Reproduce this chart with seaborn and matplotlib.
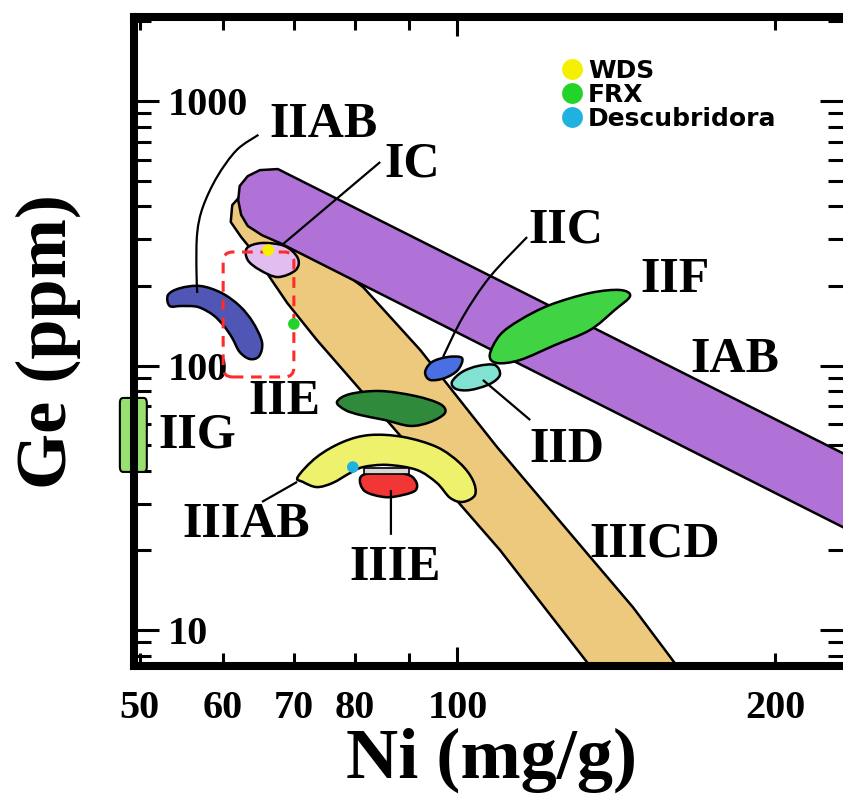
import numpy as np
import matplotlib
matplotlib.use("Agg")
import matplotlib.pyplot as plt
import matplotlib.patches as mpatches
from matplotlib.path import Path
from matplotlib.lines import Line2D
from matplotlib.ticker import NullFormatter, LogLocator
import seaborn as sns
import pandas as pd

# ---------------- data (Ni in mg/g, Ge in ppm) ----------------
IAB_NI = [67.6, 240.6, 240.6, 67.9, 65.3, 63.3, 62.4, 62.0, 62.2, 63.3, 65.0]
IAB_GE = [553, 43.2, 22.7, 290.5, 311, 337, 371, 422, 477, 520, 548]

IIICD_NI = [61.2, 63.6, 70.9, 81.4, 92.2, 109.0, 134.3, 146.6, 161.4, 171.5,
            142.2, 133.5, 109.7, 73.6, 69.0, 66.5, 64.3, 62.4, 61.0]
IIICD_GE = [404, 481, 298, 198, 114.5, 49.2, 18.4, 12.2, 7.31, 5.44,
            5.44, 7.31, 20.07, 124.9, 172.3, 214, 264, 306, 349]

IC_NI = [63.2, 65.3, 68.6, 70.6, 70.3, 67.6, 65.0, 63.3]
IC_GE = [278, 290.5, 283, 255, 229.7, 216, 229.7, 250.6]

IIAB_NI = [53.2, 54.6, 57.1, 59.8, 62.2, 64.0, 65.3, 64.9, 63.6, 62.2, 61.2,
           60.1, 58.7, 56.8, 54.8, 53.4]
IIAB_GE = [184.7, 196, 199.8, 188, 167.9, 146, 122.7, 108.6, 105.8, 112.5,
           127, 141.1, 155.2, 166.4, 167.9, 167.9]

IIC_NI = [93.2, 94.6, 97.9, 101.0, 100.1, 97.3, 94.2]
IIC_GE = [94.5, 103.1, 107.7, 106.7, 96.2, 89.7, 88.2]

IID_NI = [98.8, 101.0, 104.6, 108.5, 109.7, 107.3, 102.8, 99.7]
IID_GE = [86.6, 94.5, 99.6, 100.4, 92.1, 85.1, 80.8, 81.5]

IIF_NI = [107.3, 109.7, 114.6, 122.3, 133.5, 142.5, 145.7, 140.9, 133.5,
          123.7, 114.6, 109.0]
IIF_GE = [109.6, 130.4, 148.6, 169.3, 188, 193, 183, 162.1, 136.2, 119.5,
          104.9, 102.2]

IIE_NI = [76.9, 79.1, 84.5, 91.2, 96.3, 97.3, 94.2, 90.2, 85.4, 80.9, 78.3]
IIE_GE = [72.8, 78.0, 80.1, 76.7, 71.5, 66.1, 61.1, 59.1, 62.2, 65.0, 67.9]

IIIAB_NI = [70.6, 73.6, 77.9, 82.6, 88.8, 95.6, 100.5, 103.4, 103.9, 101.2,
            98.4, 95.6, 91.5, 85.8, 81.4, 79.1, 76.2, 73.6, 71.4]
IIIAB_GE = [37.9, 45.1, 51.4, 54.6, 53.7, 49.2, 42.8, 36.9, 32.4, 30.5,
            31.6, 36.0, 40.3, 42.1, 41.3, 39.2, 36.0, 34.7, 36.3]

IIIE_NI = [80.9, 83.0, 89.2, 91.3, 91.3, 88.8, 85.4, 81.7]
IIIE_GE = [37.6, 39.2, 38.9, 36.6, 33.8, 32.4, 31.8, 33.5]

IIIE_BAR_NI = [81.5, 90.0]
IIIE_BAR_GE = [38.8, 40.8]

IIG_NI = [47.9, 50.8]
IIG_GE = [39.6, 75.4]

BOX_NI = [60.0, 70.0]
BOX_GE = [90.5, 268.6]

# leader lines
LEAD_IIAB_NI = [64.8, 61.8, 59.2, 57.4, 56.7, 56.6, 56.7]
LEAD_IIAB_GE = [745, 652.6, 516, 397, 316.9, 235.8, 188]
LEAD_IC_NI = [84.5, 68.2]
LEAD_IC_GE = [588, 285.5]
LEAD_IIC_NI = [116.4, 107.3, 101.2, 96.9]
LEAD_IIC_GE = [306, 216, 152.6, 107.7]
LEAD_IID_NI = [105.7, 117.2]
LEAD_IID_GE = [88.2, 62.2]
LEAD_IIIAB_NI = [65.3, 70.5]
LEAD_IIIAB_GE = [30.5, 36.3]
LEAD_IIIE_NI = [86.5, 86.5]
LEAD_IIIE_GE = [33.8, 22.9]

# group labels
LABELS = ["IIAB", "IC", "IIC", "IIF", "IAB", "IIE", "IIG", "IID", "IIIAB", "IIIE", "IIICD"]
LABEL_NI = [74.6, 90.6, 126.7, 160.7, 183.2, 68.6, 56.7, 127.0, 63.1, 87.3, 153.8]
LABEL_GE = [811, 573, 325, 210.6, 104.9, 72.8, 54.6, 47.9, 24.9, 17.2, 21.0]

# measured points
POINT_NAMES = ["WDS", "FRX", "Descubridora"]
POINT_NI = [66.2, 70.0, 79.6]
POINT_GE = [273, 143.6, 41.3]
POINT_COLORS = ["#f5f000", "#22d42a", "#1fb2e0"]

X_MAJOR = [100]
X_MINOR = [50, 60, 70, 80, 90, 200]
X_MINOR_LABELS = ["50", "60", "70", "80", "", "200"]
Y_MAJOR = [10, 100, 1000]
Y_MAJOR_LABELS = ["10", "100", "1000"]

# ---------------- helpers ----------------
def smooth_closed(xs, ys):
    P = np.column_stack([np.log10(xs), np.log10(ys)])
    N = len(P)
    verts = [P[0]]
    codes = [Path.MOVETO]
    for i in range(N):
        p0, p1, p2, p3 = P[i - 1], P[i], P[(i + 1) % N], P[(i + 2) % N]
        c1 = p1 + (p2 - p0) / 6.0
        c2 = p2 - (p3 - p1) / 6.0
        verts += [c1, c2, p2]
        codes += [Path.CURVE4] * 3
    verts.append(P[0])
    codes.append(Path.CLOSEPOLY)
    return Path(10 ** np.array(verts), codes)


def smooth_open(xs, ys):
    P = np.column_stack([np.log10(xs), np.log10(ys)])
    N = len(P)
    verts = [P[0]]
    codes = [Path.MOVETO]
    for i in range(N - 1):
        p0 = P[i - 1] if i > 0 else P[i]
        p1, p2 = P[i], P[i + 1]
        p3 = P[i + 2] if i + 2 < N else P[i + 1]
        verts += [p1 + (p2 - p0) / 6.0, p2 - (p3 - p1) / 6.0, p2]
        codes += [Path.CURVE4] * 3
    return Path(10 ** np.array(verts), codes)


def rounded_rect(x0, x1, y0, y1, rx, ry):
    L0, L1, M0, M1 = np.log10(x0), np.log10(x1), np.log10(y0), np.log10(y1)
    v = [(L0 + rx, M0), (L1 - rx, M0), (L1, M0), (L1, M0 + ry), (L1, M1 - ry),
         (L1, M1), (L1 - rx, M1), (L0 + rx, M1), (L0, M1), (L0, M1 - ry),
         (L0, M0 + ry), (L0, M0), (L0 + rx, M0), (L0 + rx, M0)]
    c = [Path.MOVETO, Path.LINETO, Path.CURVE3, Path.CURVE3, Path.LINETO,
         Path.CURVE3, Path.CURVE3, Path.LINETO, Path.CURVE3, Path.CURVE3,
         Path.LINETO, Path.CURVE3, Path.CURVE3, Path.CLOSEPOLY]
    return Path(10 ** np.array(v), c)

# ---------------- figure ----------------
sns.set_style("white")
plt.rcParams["font.family"] = ["Liberation Serif", "DejaVu Serif"]
plt.rcParams["font.weight"] = "bold"
for k in ["text.color", "axes.labelcolor", "xtick.color", "ytick.color", "axes.edgecolor"]:
    plt.rcParams[k] = "black"

W, H = 843, 797
fig = plt.figure(figsize=(W / 100, H / 100), dpi=100)
fig.patch.set_facecolor("white")
ax = fig.add_axes([134 / W, 1 - 666 / H, 711 / W, 649 / H])
ax.set_xscale("log")
ax.set_yscale("log")
ax.set_xlim(49.4, 232.8)
ax.set_ylim(7.31, 2078)

EDGE = dict(edgecolor="black", linewidth=1.8, joinstyle="round")

ax.add_patch(mpatches.Polygon(np.column_stack([IIICD_NI, IIICD_GE]), closed=True,
                              facecolor="#ecc97c", zorder=1.0, **EDGE))
ax.add_patch(mpatches.Polygon(np.column_stack([IAB_NI, IAB_GE]), closed=True,
                              facecolor="#b172d8", zorder=1.1, **EDGE))

blobs = [
    (IC_NI, IC_GE, "#e2bdf0"),
    (IIAB_NI, IIAB_GE, "#4f56b6"),
    (IIF_NI, IIF_GE, "#40d444"),
    (IIE_NI, IIE_GE, "#2f8a3c"),
    (IIIAB_NI, IIIAB_GE, "#eef16c"),
    (IIC_NI, IIC_GE, "#4a6fe2"),
    (IID_NI, IID_GE, "#82e2d2"),
    (IIIE_NI, IIIE_GE, "#f23535"),
]
for i, (xs, ys, col) in enumerate(blobs):
    ax.add_patch(mpatches.PathPatch(smooth_closed(xs, ys), facecolor=col,
                                    zorder=1.2 + 0.01 * i, **EDGE))

ax.add_patch(mpatches.Rectangle((IIIE_BAR_NI[0], IIIE_BAR_GE[0]),
                                IIIE_BAR_NI[1] - IIIE_BAR_NI[0],
                                IIIE_BAR_GE[1] - IIIE_BAR_GE[0],
                                facecolor="#d8d8d8", edgecolor="black",
                                linewidth=1.2, zorder=1.35))

# IIG box straddling the left axis
ax.add_patch(mpatches.PathPatch(rounded_rect(IIG_NI[0], IIG_NI[1], IIG_GE[0], IIG_GE[1], 0.003, 0.02),
                                facecolor="#98e070", edgecolor="black", linewidth=1.5,
                                clip_on=False, zorder=1.3))

# red dashed box
ax.add_patch(mpatches.PathPatch(rounded_rect(BOX_NI[0], BOX_NI[1], BOX_GE[0], BOX_GE[1], 0.009, 0.035),
                                facecolor="none", edgecolor="#ff2a2a", linewidth=2.2,
                                linestyle=(0, (3.5, 2.5)), zorder=1.6))

# leader lines
for xs, ys in [(LEAD_IIAB_NI, LEAD_IIAB_GE), (LEAD_IC_NI, LEAD_IC_GE),
               (LEAD_IIC_NI, LEAD_IIC_GE), (LEAD_IID_NI, LEAD_IID_GE),
               (LEAD_IIIAB_NI, LEAD_IIIAB_GE), (LEAD_IIIE_NI, LEAD_IIIE_GE)]:
    ax.add_patch(mpatches.PathPatch(smooth_open(xs, ys), facecolor="none",
                                    edgecolor="black", linewidth=1.6, zorder=1.5))

# measured points (seaborn)
pts = pd.DataFrame({"Ni": POINT_NI, "Ge": POINT_GE, "Método": POINT_NAMES})
sns.scatterplot(data=pts, x="Ni", y="Ge", hue="Método",
                palette=dict(zip(POINT_NAMES, POINT_COLORS)), s=70,
                edgecolor="none", legend=False, ax=ax, zorder=3)

# group labels
for lab, x, y in zip(LABELS, LABEL_NI, LABEL_GE):
    ax.text(x, y, lab, fontsize=36, fontweight="bold", ha="center",
            va="center", zorder=4, family=["Liberation Serif"], color="black")

# legend
handles = [Line2D([], [], marker="o", ls="none", markersize=15,
                  markerfacecolor=c, markeredgecolor="none") for c in POINT_COLORS]
leg = ax.legend(handles, POINT_NAMES, loc="upper left", bbox_to_anchor=(0.6, 0.935),
                frameon=False, prop=dict(family="DejaVu Sans", weight="bold", size=18),
                handlelength=0.9, handletextpad=0.2, labelspacing=0.0,
                borderpad=0, borderaxespad=0)
for t in leg.get_texts():
    t.set_color("black")

# ticks
ax.set_xticks(X_MAJOR, labels=["100"])
ax.set_xticks(X_MINOR, labels=X_MINOR_LABELS, minor=True)
ax.set_yticks(Y_MAJOR, labels=Y_MAJOR_LABELS)
ax.yaxis.set_minor_locator(LogLocator(base=10, subs=np.arange(2, 10)))
ax.yaxis.set_minor_formatter(NullFormatter())
ax.tick_params(axis="x", which="both", direction="in", top=True, bottom=True,
               labelsize=29, pad=17, width=2.2, color="black", labelcolor="black")
ax.tick_params(axis="x", which="major", length=14)
ax.tick_params(axis="x", which="minor", length=9.5)
ax.tick_params(axis="y", which="both", direction="in", left=True, right=True,
               labelsize=29, pad=-24, width=2.2, color="black", labelcolor="black")
ax.tick_params(axis="y", which="major", length=18)
ax.tick_params(axis="y", which="minor", length=12.5)
for t in ax.get_yticklabels():
    t.set_horizontalalignment("left")
for t in ax.get_xticklabels(minor=True) + ax.get_xticklabels():
    t.set_fontweight("bold")

for s in ax.spines.values():
    s.set_linewidth(5.8)
    s.set_color("black")

ax.set_xlabel("Ni (mg/g)", fontsize=52, fontweight="bold", color="black")
ax.xaxis.set_label_coords(0.5035, -0.095)
ax.set_ylabel("Ge (ppm)", fontsize=52, fontweight="bold", color="black")
ax.yaxis.set_label_coords(-0.075, 0.50)

fig.savefig("out.png", dpi=100)
